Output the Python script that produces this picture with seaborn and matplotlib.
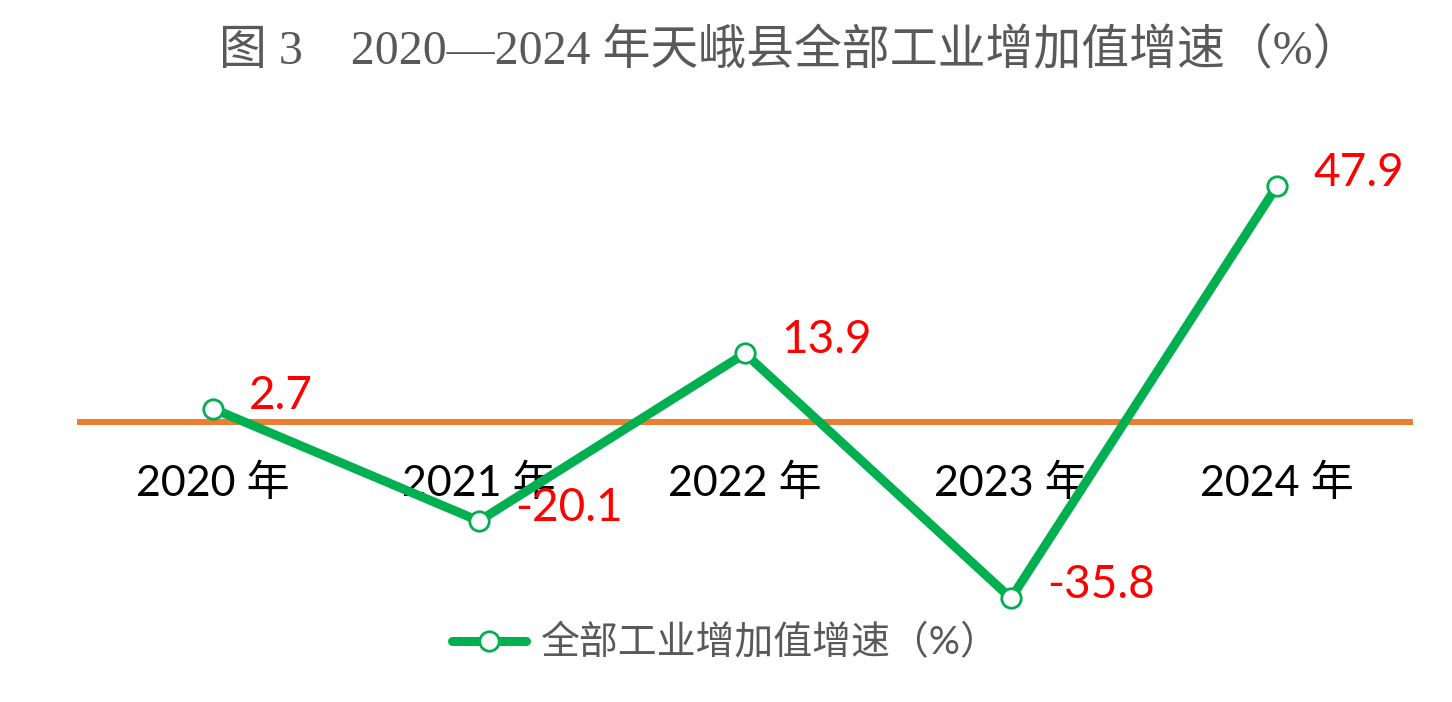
import matplotlib
matplotlib.use("Agg")
import matplotlib.pyplot as plt
import seaborn as sns

# data
years = ["2020 年", "2021 年", "2022 年", "2023 年", "2024 年"]
growth = [2.7, -20.1, 13.9, -35.8, 47.9]
series_name = "全部工业增加值增速（%）"
title_text = "图 3\u30002020—2024 年天峨县全部工业增加值增速（%）"

sns.set_theme(style="white")
plt.rcParams["font.family"] = ["Lato", "Noto Sans CJK SC", "DejaVu Sans"]

green = "#00B050"
orange = "#ED7D31"
gray = "#595959"

fig = plt.figure(figsize=(14.52, 7.02), dpi=100)
ax = fig.add_axes([80 / 1452, 1 - 619 / 702, 1330 / 1452, 468 / 702])

sns.lineplot(x=years, y=growth, ax=ax, color=green, linewidth=6.5,
             marker="o", markersize=14, markerfacecolor="white",
             markeredgecolor=green, markeredgewidth=2,
             label=series_name, zorder=3)

for i, v in enumerate(growth):
    ax.annotate(f"{v:.1f}", (i, v), xytext=(26, 0), textcoords="offset points",
                ha="left", va="baseline", color="#FF0000", fontsize=33)

ax.set_xlim(-0.5, 4.5)
ax.set_ylim(-40, 55)
ax.set_xlabel("")
ax.set_ylabel("")
ax.set_yticks([])

for s in ["top", "right", "left"]:
    ax.spines[s].set_visible(False)
ax.spines["bottom"].set_position(("data", 0))
ax.spines["bottom"].set_color(orange)
ax.spines["bottom"].set_linewidth(4.3)
ax.spines["bottom"].set_zorder(2)
ax.tick_params(axis="x", length=0, pad=30, labelsize=31, labelcolor="black")

ax.legend(loc="center", bbox_to_anchor=(0.5, 1 - 643 / 702),
          bbox_transform=fig.transFigure, frameon=False, fontsize=28,
          labelcolor=gray, handlelength=1.9, handletextpad=0.4)

fig.text(790 / 1452, 1 - 50 / 702, title_text, ha="center", va="center",
         fontsize=34.5, color=gray,
         family=["Liberation Serif", "Noto Sans CJK SC"])

fig.savefig("out.png", dpi=100)
